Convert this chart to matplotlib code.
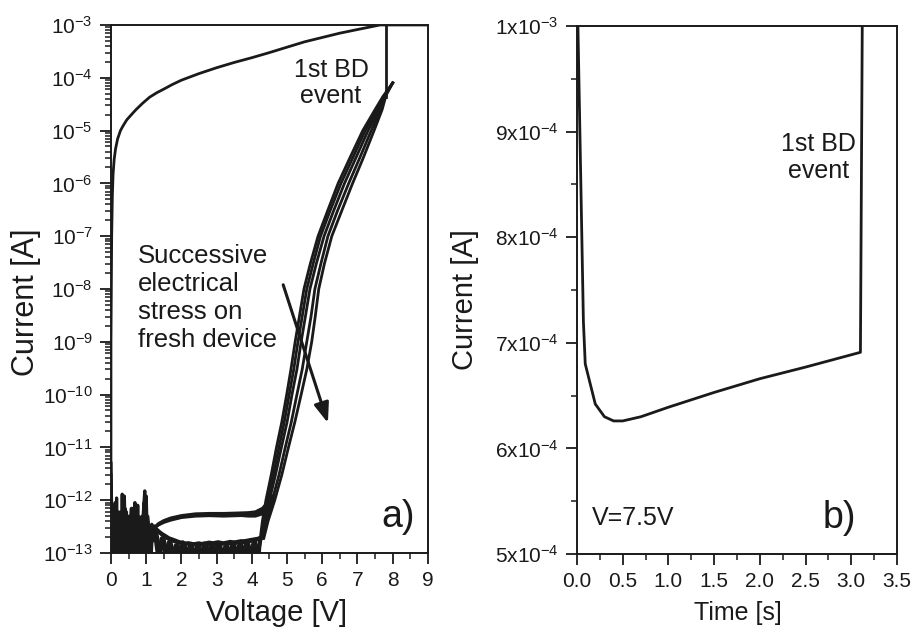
import numpy as np
import matplotlib
matplotlib.use("Agg")
import matplotlib.pyplot as plt
from matplotlib.ticker import FixedLocator, FixedFormatter, MultipleLocator, LogLocator, NullFormatter

plt.rcParams['font.family'] = ['Liberation Sans', 'DejaVu Sans']
plt.rcParams['mathtext.fontset'] = 'custom'
plt.rcParams['mathtext.rm'] = 'Liberation Sans'
plt.rcParams['mathtext.it'] = 'Liberation Sans:italic'
plt.rcParams['mathtext.bf'] = 'Liberation Sans:bold'

# ---------------- Panel a data ----------------
# post-breakdown I-V sweep
post_bd_v = [0.0, 0.0, 0.02, 0.04, 0.06, 0.09, 0.13, 0.19, 0.27, 0.35, 0.45, 0.55, 0.7, 0.9,
             1.1, 1.3, 1.5, 1.75, 2.0, 2.5, 3.0, 3.5, 4.0, 4.5, 5.0, 5.5, 6.0, 6.5, 7.0,
             7.64, 9.0]
post_bd_i = [1e-13, 1e-9, 1e-7, 6e-7, 1.5e-6, 2.8e-6, 4.5e-6, 7e-6, 1e-5, 1.25e-5, 1.6e-5,
             1.9e-5, 2.45e-5, 3.3e-5, 4.3e-5, 5.2e-5, 6.1e-5, 7.5e-5, 9e-5, 1.2e-4, 1.55e-4,
             1.95e-4, 2.4e-4, 3.0e-4, 3.8e-4, 4.8e-4, 5.8e-4, 7e-4, 8.2e-4, 1e-3, 1e-3]

# breakdown jump of last pre-BD sweep
bd_jump_v = [7.8, 7.8]
bd_jump_i = [4.4e-5, 1e-3]

# low-voltage noise (0 .. 1.24 V), in units of 1e-13 A
noise_v = [0.00, 0.04, 0.08, 0.12, 0.16, 0.20, 0.24, 0.28, 0.32, 0.36, 0.40, 0.44, 0.48,
           0.52, 0.56, 0.60, 0.64, 0.68, 0.72, 0.76, 0.80, 0.84, 0.88, 0.92, 0.96, 1.00,
           1.04, 1.08, 1.12, 1.16, 1.20, 1.24]
noise_a = [50, 0.5, 8, 0.5, 11, 0.6, 5, 0.8, 13, 0.7, 4, 6, 0.5, 5, 0.8, 7, 0.6, 9, 0.9, 8,
           0.6, 4, 0.7, 6, 15, 0.8, 5, 3, 0.9, 3.5, 2.5, 3]
noise_b = [20, 0.6, 4, 9, 0.5, 3, 0.7, 6, 0.5, 4, 7, 0.6, 3.5, 0.7, 5, 0.5, 4, 0.8, 6, 0.5,
           3, 0.9, 5, 0.6, 4, 0.7, 3.5, 0.8, 3, 2.5, 2.8, 3.2]
noise_c = [30, 1.5, 0.6, 5, 2, 0.5, 3.5, 1.2, 0.6, 2.5, 1.5, 0.7, 4, 2, 0.6, 3, 1.4, 0.5, 2.5,
           1.2, 0.7, 3.5, 1.5, 0.6, 2.2, 12, 1.3, 0.7, 2.4, 1.6, 2.0, 2.6]
noise_v2 = [0.02, 0.06, 0.10, 0.14, 0.18, 0.22, 0.26, 0.30, 0.34, 0.38, 0.42, 0.46, 0.50,
            0.54, 0.58, 0.62, 0.66, 0.70, 0.74, 0.78, 0.82, 0.86, 0.90, 0.94, 0.98, 1.02,
            1.06, 1.10, 1.14, 1.18, 1.22]
noise_d = [8, 0.6, 3.5, 0.5, 2.8, 6, 0.7, 3, 0.6, 12, 0.8, 3.2, 0.5, 2.6, 7, 0.6, 3.4, 0.7,
           2.9, 5, 0.6, 3.1, 0.5, 9, 0.7, 3.3, 0.6, 2.7, 0.8, 3.0, 2.6]
noise_e = [3, 1.8, 0.6, 4, 1.5, 0.7, 2.5, 1.2, 4.5, 0.6, 2.2, 1.6, 0.5, 3.5, 1.4, 0.6, 2.8,
           1.1, 0.5, 3.8, 1.5, 0.7, 2.4, 1.3, 0.6, 3.2, 1.8, 0.9, 2.6, 2.0, 2.9]

# forward lower branch (1.24 .. 4.24 V), units 1e-13 A
low_v = [1.24, 1.34, 1.44, 1.54, 1.64, 1.74, 1.84, 1.94, 2.04, 2.14, 2.24, 2.34, 2.44, 2.54,
         2.64, 2.74, 2.84, 2.94, 3.04, 3.14, 3.24, 3.34, 3.44, 3.54, 3.64, 3.74, 3.84, 3.94,
         4.04, 4.14, 4.24]
low_a = [3.0, 2.6, 2.3, 2.1, 1.9, 1.8, 1.7, 1.6, 1.55, 1.5, 1.5, 1.45, 1.45, 1.45, 1.5, 1.45,
         1.5, 1.5, 1.45, 1.5, 1.5, 1.55, 1.5, 1.55, 1.6, 1.6, 1.65, 1.7, 1.7, 1.8, 1.9]
low_b = [2.6, 0.8, 1.9, 0.9, 1.6, 0.7, 1.4, 1.0, 1.6, 0.8, 1.4, 0.9, 1.3, 0.7, 1.5, 1.0, 1.4,
         0.8, 1.6, 0.9, 1.3, 0.8, 1.5, 1.0, 1.4, 0.7, 1.6, 0.9, 1.5, 0.8, 1.7]
low_v2 = [1.29, 1.39, 1.49, 1.59, 1.69, 1.79, 1.89, 1.99, 2.09, 2.19, 2.29, 2.39, 2.49, 2.59,
          2.69, 2.79, 2.89, 2.99, 3.09, 3.19, 3.29, 3.39, 3.49, 3.59, 3.69, 3.79, 3.89, 3.99,
          4.09, 4.19]
low_c = [2.4, 1.0, 2.0, 0.8, 1.6, 0.9, 1.5, 0.7, 1.4, 1.0, 1.5, 0.8, 1.4, 0.9, 1.5, 0.7, 1.4,
         1.0, 1.5, 0.8, 1.4, 0.9, 1.6, 0.7, 1.5, 1.0, 1.6, 0.8, 1.7, 0.9]
low_d = [2.8, 2.4, 2.1, 1.9, 1.75, 1.65, 1.6, 1.55, 1.5, 1.55, 1.5, 1.5, 1.55, 1.5, 1.55, 1.6,
         1.55, 1.6, 1.6, 1.55, 1.6, 1.65, 1.6, 1.65, 1.7, 1.7, 1.75, 1.8, 1.85, 1.9]

# return upper branch (4.6 .. 1.24 V), units 1e-13 A
up_v = [4.6, 4.45, 4.3, 4.1, 3.9, 3.6, 3.2, 2.8, 2.4, 2.0, 1.7, 1.5, 1.35, 1.24]
up_a = [12, 9.0, 7.0, 6.0, 5.8, 5.7, 5.6, 5.6, 5.5, 5.1, 4.6, 4.1, 3.6, 3.0]
up_b = [11, 8.0, 6.2, 5.4, 5.2, 5.1, 5.0, 5.1, 5.0, 4.7, 4.2, 3.8, 3.4, 3.0]
up_c = [10, 7.0, 5.5, 5.0, 5.0, 5.2, 5.3, 5.4, 5.3, 4.9, 4.4, 3.9, 3.5, 3.1]

# steep rise of successive sweeps: voltage reached at each current level
rise_i = [1.9e-13, 4e-13, 1e-12, 3e-12, 1e-11, 3e-11, 1e-10, 3e-10, 1e-9, 3e-9, 1e-8, 3e-8,
          1e-7, 3e-7, 1e-6, 3e-6, 1e-5, 2.5e-5, 4.4e-5, 8e-5]
sweep1_v = [4.24, 4.30, 4.40, 4.55, 4.70, 4.85, 4.99, 5.11, 5.23, 5.35, 5.48, 5.66, 5.88,
            6.15, 6.45, 6.78, 7.15, 7.50, 7.72, 8.00]
sweep2_v = [4.26, 4.33, 4.45, 4.61, 4.77, 4.92, 5.06, 5.19, 5.31, 5.43, 5.56, 5.74, 5.95,
            6.22, 6.53, 6.86, 7.22, 7.55, 7.75, 8.00]
sweep3_v = [4.28, 4.36, 4.50, 4.67, 4.84, 5.00, 5.14, 5.28, 5.40, 5.52, 5.65, 5.83, 6.05,
            6.32, 6.63, 6.95, 7.30, 7.60, 7.77, 8.00]
sweep4_v = [4.31, 4.41, 4.58, 4.77, 4.95, 5.12, 5.28, 5.43, 5.56, 5.68, 5.79, 5.96, 6.16,
            6.43, 6.75, 7.06, 7.39, 7.65, 7.79, 8.00]
sweep5_v = [4.34, 4.46, 4.65, 4.85, 5.04, 5.22, 5.40, 5.56, 5.70, 5.80, 5.90, 6.06, 6.27,
            6.55, 6.86, 7.16, 7.47, 7.70, 7.80]
sweep5_i = rise_i[:19]

# arrow ("successive stress" direction)
arrow_start = (4.89, 1.2e-8)
arrow_end = (6.16, 2.9e-11)

# ---------------- Panel b data ----------------
time_s = [0.01, 0.07, 0.09, 0.2, 0.3, 0.4, 0.5, 0.7, 1.0, 1.5, 2.0, 2.5, 3.1, 3.12]
current_b = [10.0, 7.2, 6.8, 6.42, 6.3, 6.26, 6.26, 6.3, 6.39, 6.53, 6.66, 6.77, 6.91, 10.0]  # x1e-4 A

a_yticks = [1e-13, 1e-12, 1e-11, 1e-10, 1e-9, 1e-8, 1e-7, 1e-6, 1e-5, 1e-4, 1e-3]
a_ylabels = ['10$^{-13}$', '10$^{-12}$', '10$^{-11}$', '10$^{-10}$', '10$^{-9}$', '10$^{-8}$',
             '10$^{-7}$', '10$^{-6}$', '10$^{-5}$', '10$^{-4}$', '10$^{-3}$']
a_xticks = [0, 1, 2, 3, 4, 5, 6, 7, 8, 9]
b_yticks = [5e-4, 6e-4, 7e-4, 8e-4, 9e-4, 1e-3]
b_ylabels = ['5x10$^{-4}$', '6x10$^{-4}$', '7x10$^{-4}$', '8x10$^{-4}$', '9x10$^{-4}$', '1x10$^{-3}$']
b_xticks = [0.0, 0.5, 1.0, 1.5, 2.0, 2.5, 3.0, 3.5]
b_xlabels = ['0.0', '0.5', '1.0', '1.5', '2.0', '2.5', '3.0', '3.5']

# ---------------- Figure ----------------
ink = '#1a1a1a'
fig = plt.figure(figsize=(9.14, 6.37), dpi=100)
axa = fig.add_axes([0.1214, 0.1319, 0.3468, 0.8289])
axb = fig.add_axes([0.6313, 0.1303, 0.3501, 0.8289])

lw = 2.0
e13 = 1e-13
axa.plot(post_bd_v, post_bd_i, color=ink, lw=lw)
axa.plot(bd_jump_v, bd_jump_i, color=ink, lw=lw)
for nz in (noise_a, noise_b, noise_c):
    axa.plot(noise_v, [v * e13 for v in nz], color=ink, lw=2.3)
for nz in (noise_d, noise_e):
    axa.plot(noise_v2, [v * e13 for v in nz], color=ink, lw=2.3)
axa.plot(low_v, [v * e13 for v in low_a], color=ink, lw=3.0)
axa.plot(low_v, [v * e13 for v in low_b], color=ink, lw=2.8)
axa.plot(low_v2, [v * e13 for v in low_c], color=ink, lw=2.8)
axa.plot(low_v2, [v * e13 for v in low_d], color=ink, lw=2.4)
for up in (up_a, up_b, up_c):
    axa.plot(up_v, [v * e13 for v in up], color=ink, lw=2.2)
for sv in (sweep1_v, sweep2_v, sweep3_v, sweep4_v):
    axa.plot(sv, rise_i, color=ink, lw=lw)
axa.plot(sweep5_v, sweep5_i, color=ink, lw=lw)
axa.plot([sweep1_v[0], sweep1_v[0] - 0.03], [rise_i[0], 1.05e-13], color=ink, lw=2.5)

axa.annotate('', xy=arrow_end, xytext=arrow_start,
             arrowprops=dict(arrowstyle='-|>,head_length=1.2,head_width=0.45',
                             color=ink, lw=2.2, shrinkA=0, shrinkB=0))

axa.set_yscale('log')
axa.set_xlim(0, 9)
axa.set_ylim(1e-13, 1e-3)
axa.yaxis.set_major_locator(FixedLocator(a_yticks))
axa.yaxis.set_major_formatter(FixedFormatter(a_ylabels))
axa.yaxis.set_minor_locator(LogLocator(base=10, subs=np.arange(2, 10), numticks=100))
axa.yaxis.set_minor_formatter(NullFormatter())
axa.xaxis.set_major_locator(FixedLocator(a_xticks))
axa.xaxis.set_minor_locator(MultipleLocator(0.5))

axa.text(0.694, 0.890, '1st BD\nevent', transform=axa.transAxes, ha='center', va='center',
         fontsize=18, color=ink, linespacing=1.15)
axa.text(0.085, 0.483, 'Successive\nelectrical\nstress on\nfresh device', transform=axa.transAxes,
         ha='left', va='center', fontsize=18.5, color=ink, linespacing=1.2)
axa.text(0.905, 0.068, 'a)', transform=axa.transAxes, ha='center', va='center',
         fontsize=27, color=ink)
axa.set_xlabel('Voltage [V]', fontsize=21, color=ink)
axa.set_ylabel('Current [A]', fontsize=22, color=ink)
axa.xaxis.set_label_coords(0.524, -0.087)
axa.yaxis.set_label_coords(-0.22, 0.475)

axb.plot(time_s, [v * 1e-4 for v in current_b], color=ink, lw=lw)
axb.set_xlim(0, 3.5)
axb.set_ylim(5e-4, 1e-3)
axb.yaxis.set_major_locator(FixedLocator(b_yticks))
axb.yaxis.set_major_formatter(FixedFormatter(b_ylabels))
axb.yaxis.set_minor_locator(MultipleLocator(0.5e-4))
axb.xaxis.set_major_locator(FixedLocator(b_xticks))
axb.xaxis.set_major_formatter(FixedFormatter(b_xlabels))
axb.xaxis.set_minor_locator(MultipleLocator(0.25))
axb.text(0.756, 0.751, '1st BD\nevent', transform=axb.transAxes, ha='center', va='center',
         fontsize=18, color=ink, linespacing=1.15)
axb.text(0.047, 0.068, 'V=7.5V', transform=axb.transAxes, ha='left', va='center',
         fontsize=18, color=ink)
axb.text(0.819, 0.068, 'b)', transform=axb.transAxes, ha='center', va='center',
         fontsize=27, color=ink)
axb.set_xlabel('Time [s]', fontsize=18, color=ink)
axb.set_ylabel('Current [A]', fontsize=21, color=ink)
axb.xaxis.set_label_coords(0.503, -0.089)
axb.yaxis.set_label_coords(-0.305, 0.481)

for ax in (axa, axb):
    for s in ax.spines.values():
        s.set_linewidth(1.4)
        s.set_color(ink)
    ax.tick_params(which='major', direction='out', length=8, width=1.3, labelsize=15,
                   colors=ink, pad=5, top=False, right=False)
    ax.tick_params(which='minor', direction='out', length=4, width=1.1,
                   colors=ink, top=False, right=False)

fig.savefig('out.png', dpi=100)
